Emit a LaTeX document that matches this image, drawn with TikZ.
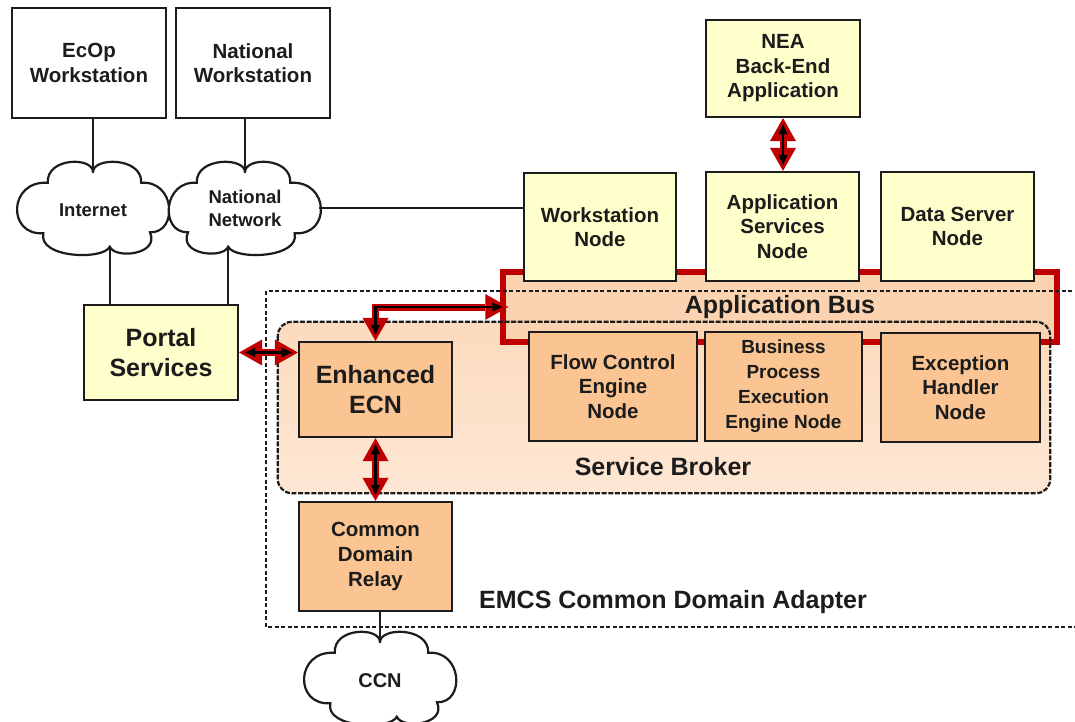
\documentclass[tikz,border=0pt]{standalone}
\usepackage{fontspec}
\setmainfont{Liberation Sans}
\usetikzlibrary{arrows.meta,calc}

\definecolor{ink}{HTML}{1C1C1C}
\definecolor{boxyellow}{HTML}{FFFFCC}
\definecolor{boxorange}{HTML}{FAC592}
\definecolor{brokertop}{HTML}{FCDBBE}
\definecolor{brokerbot}{HTML}{FDE7D4}
\definecolor{busfill}{HTML}{FBD3B0}
\definecolor{busred}{HTML}{C00000}

% thick red double-headed link with a black core
\newcommand\buslink[1]{\draw[redout] #1; \draw[redin] #1;}

\tikzset{
  pics/cloudline/.style={code={
    \draw[link, fill=white]
      (0,-0.78) .. controls (0.02,-1.14) and (-0.64,-1.14) .. (-0.62,-0.56)
      .. controls (-1.16,-0.62) and (-1.18,0.62) .. (-0.68,0.56)
      .. controls (-0.76,1.12) and (0.15,1.16) .. (0.23,0.86)
      .. controls (0.3,1.14) and (0.92,1.04) .. (0.78,0.54)
      .. controls (1.17,0.56) and (1.13,-0.62) .. (0.66,-0.56)
      .. controls (0.68,-1.14) and (-0.02,-1.14) .. cycle;
    \coordinate (-top) at (0,-0.78);
    \coordinate (-bot) at (0.23,0.86);
    \coordinate (-w) at (-1.02,0);
    \coordinate (-e) at (1.02,0);
  }}
}

\begin{document}
\begin{tikzpicture}[x=1pt, y=-1pt,
  link/.style={draw=ink, line width=2.2pt},
  box/.style={draw=ink, line width=2.2pt, align=center, text=ink, inner sep=0pt,
    font=\bfseries\fontsize{20.5}{24.5}\selectfont},
  wbox/.style={box, fill=white},
  ybox/.style={box, fill=boxyellow},
  obox/.style={box, fill=boxorange},
  bigtext/.style={font=\bfseries\fontsize{25}{30}\selectfont},
  title/.style={text=ink, inner sep=0pt, font=\bfseries\fontsize{25}{30}\selectfont},
  cloudtext/.style={text=ink, inner sep=0pt, align=center,
    font=\bfseries\fontsize{18.5}{23}\selectfont},
  busbox/.style={fill=busfill, draw=busred, line width=5.5pt, inner sep=0pt,
    text=ink, font=\bfseries\fontsize{25}{30}\selectfont},
  brokerbox/.style={top color=brokertop, bottom color=brokerbot, rounded corners=14pt,
    inner sep=0pt},
  brokerline/.style={draw=ink, line width=2.2pt, dash pattern=on 5pt off 1.6pt,
    rounded corners=14pt},
  adapterline/.style={draw=ink, line width=1.7pt, dash pattern=on 4pt off 2.5pt},
  redout/.style={draw=busred, line width=7pt, line join=miter,
    {Triangle[width=26pt,length=23pt,line width=0pt]}-{Triangle[width=26pt,length=23pt,line width=0pt]}},
  redin/.style={draw=black, line width=2.4pt, line join=miter, shorten <=6pt, shorten >=6pt,
    {Triangle[width=9pt,length=10pt,line width=0pt]}-{Triangle[width=9pt,length=10pt,line width=0pt]}}
]
\fill[white] (0,0) rectangle (1075,722);
\useasboundingbox (0,0) rectangle (1075,722);
\clip (0,0) rectangle (1075,722);

% Service Broker area and Application Bus
\node[brokerbox, minimum width=772pt, minimum height=171pt] (sb) at (664,407.5) {};
\node[busbox, minimum width=554pt, minimum height=70pt] (bus) at (780,307) {Application Bus};

% EMCS Common Domain Adapter boundary and Service Broker border
\draw[adapterline] (266,291) rectangle (1100,627);
\draw[brokerline] (sb.north west) rectangle (sb.south east);

% networks
\pic[xscale=73, yscale=45] (inet) at (93,208) {cloudline};
\pic[xscale=-73, yscale=45] (nat) at (245,208) {cloudline};
\pic[xscale=73, yscale=45] (ccn) at (380,678) {cloudline};
\node[cloudtext] (inetlabel) at (93,210) {Internet};
\node[cloudtext] (natlabel) at (245,208) {National\\Network};
\node[cloudtext, font=\bfseries\fontsize{20}{24}\selectfont] (ccnlabel) at (380,681) {CCN};

% workstations and portal
\node[wbox, minimum width=154pt, minimum height=110pt] (ecop) at (89,63) {EcOp\\Workstation};
\node[wbox, minimum width=154pt, minimum height=110pt] (natws) at (253,63) {National\\Workstation};
\node[ybox, bigtext, minimum width=154pt, minimum height=95pt] (portal) at (161,352.5) {Portal\\Services};

% application side
\node[ybox, minimum width=154pt, minimum height=97pt] (nea) at (783,68.5) {NEA\\Back-End\\Application};
\node[ybox, minimum width=152pt, minimum height=108pt] (wsnode) at (600,227) {Workstation\\Node};
\node[ybox, minimum width=153pt, minimum height=109pt] (appsvc) at (782.5,226.5) {Application\\Services\\Node};
\node[ybox, minimum width=153pt, minimum height=109pt] (dsnode) at (957.5,226.5) {Data Server\\Node};

% service broker engines
\node[obox, minimum width=168pt, minimum height=109pt] (flow) at (613,386.5) {Flow Control\\Engine\\Node};
\node[obox, minimum width=157pt, minimum height=109pt, font=\bfseries\fontsize{19}{25}\selectfont] (bpe) at (783.5,386.5) {Business\\Process\\Execution\\Engine Node};
\node[obox, minimum width=159pt, minimum height=109pt] (exc) at (960.5,387.5) {Exception\\Handler\\Node};

% common domain chain
\node[obox, bigtext, minimum width=153pt, minimum height=95pt] (ecn) at (375.5,389.5) {Enhanced\\ECN};
\node[obox, minimum width=153pt, minimum height=109pt, font=\bfseries\fontsize{20.5}{25}\selectfont] (cdr) at (375.5,556.5) {Common\\Domain\\Relay};

% labels
\node[title] (sbname) at (663,467) {Service Broker};
\node[title] (emcsname) at (673,602) {EMCS Common Domain Adapter};

% plain connectors
\draw[link] (inet-top |- ecop.south) -- (inet-top);
\draw[link] (nat-top |- natws.south) -- (nat-top);
\draw[link] (inet-bot) -- (inet-bot |- portal.north);
\draw[link] (nat-bot) -- (nat-bot |- portal.north);
\draw[link] (nat-w) -- (nat-w -| wsnode.west);
\draw[link] (ccn-top |- cdr.south) -- (ccn-top);

% red message links
\buslink{(portal.east) -- (portal.east -| ecn.west)}
\buslink{(nea.south) -- (nea.south |- appsvc.north)}
\buslink{(ecn.south) -- (ecn.south |- cdr.north)}
\buslink{(ecn.north) |- ([xshift=8pt]bus.west)}
\end{tikzpicture}
\end{document}
